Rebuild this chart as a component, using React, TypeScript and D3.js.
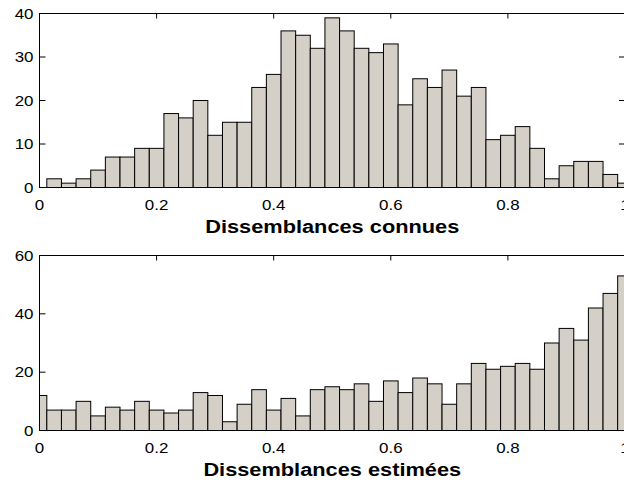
import React from "react";
import * as d3 from "d3";

// Histogram bin centres (0, 0.025, ..., 1) and counts
const BIN_WIDTH = 0.025;
const binCenters: number[] = d3.range(41).map((i) => +(i * BIN_WIDTH).toFixed(4));

const knownCounts: number[] = [
  0, 2, 1, 2, 4, 7, 7, 9, 9, 17, 16, 20, 12, 15, 15, 23, 26, 36, 35, 32, 39,
  36, 32, 31, 33, 19, 25, 23, 27, 21, 23, 11, 12, 14, 9, 2, 5, 6, 6, 3, 1,
];
const estimatedCounts: number[] = [
  12, 7, 7, 10, 5, 8, 7, 10, 7, 6, 7, 13, 12, 3, 9, 14, 7, 11, 5, 14, 15, 14,
  16, 10, 17, 13, 18, 16, 9, 16, 23, 21, 22, 23, 21, 30, 35, 31, 42, 47, 53,
];

const xTicks: number[] = [0, 0.2, 0.4, 0.6, 0.8, 1];
const xTickLabels: string[] = ["0", "0.2", "0.4", "0.6", "0.8", "1"];
const topYTicks: number[] = [0, 10, 20, 30, 40];
const bottomYTicks: number[] = [0, 20, 40, 60];
const topLabel = "Dissemblances connues";
const bottomLabel = "Dissemblances estimées";

const FONT = "'Liberation Sans', Arial, Helvetica, sans-serif";
const SX = 1.21; // horizontal stretch of the reference figure
const BAR_FILL = "#d4d0c8";

type HistProps = {
  id: string;
  counts: number[];
  yMax: number;
  yTicks: number[];
  top: number;
  bottom: number;
  label: string;
};

const X0 = 39.5;
const X1 = 625;

function Histogram({ id, counts, yMax, yTicks, top, bottom, label }: HistProps) {
  const x = d3.scaleLinear().domain([0, 1]).range([X0, X1]);
  const y = d3.scaleLinear().domain([0, yMax]).range([bottom, top]);
  const tickLenX = 5;
  const tickLenY = 6;
  return (
    <g>
      <defs>
        <clipPath id={id}>
          <rect x={X0} y={top} width={X1 - X0} height={bottom - top} />
        </clipPath>
      </defs>
      {/* ticks (inside) */}
      {xTicks.map((t, i) => (
        <g key={"xt" + i}>
          <line x1={x(t)} x2={x(t)} y1={bottom} y2={bottom - tickLenX} stroke="#000" strokeWidth={1} />
          <line x1={x(t)} x2={x(t)} y1={top} y2={top + tickLenX} stroke="#000" strokeWidth={1} />
        </g>
      ))}
      {yTicks.map((t, i) => (
        <g key={"yt" + i}>
          <line x1={X0} x2={X0 + tickLenY} y1={y(t)} y2={y(t)} stroke="#000" strokeWidth={1} />
          <line x1={X1} x2={X1 - tickLenY} y1={y(t)} y2={y(t)} stroke="#000" strokeWidth={1} />
        </g>
      ))}
      {/* bars */}
      <g clipPath={`url(#${id})`}>
        {counts.map((c, i) => {
          const c0 = binCenters[i] - BIN_WIDTH / 2;
          const c1 = binCenters[i] + BIN_WIDTH / 2;
          if (c <= 0) return null;
          return (
            <rect
              key={i}
              x={x(c0)}
              y={y(c)}
              width={x(c1) - x(c0)}
              height={y(0) - y(c)}
              fill={BAR_FILL}
              stroke="#000"
              strokeWidth={1}
            />
          );
        })}
      </g>
      {/* frame */}
      <rect x={X0} y={top} width={X1 - X0} height={bottom - top} fill="none" stroke="#000" strokeWidth={1} />
      {/* tick labels */}
      {xTicks.map((t, i) => (
        <text
          key={"xl" + i}
          transform={`translate(${x(t)},${bottom + 22.5}) scale(${SX},1)`}
          textAnchor="middle"
          fontFamily={FONT}
          fontSize={14}
          fill="#000"
        >
          {xTickLabels[i]}
        </text>
      ))}
      {yTicks.map((t, i) => (
        <text
          key={"yl" + i}
          transform={`translate(${X0 - 6},${y(t) + 5}) scale(${SX},1)`}
          textAnchor="end"
          fontFamily={FONT}
          fontSize={14}
          fill="#000"
        >
          {String(t)}
        </text>
      ))}
      <text
        transform={`translate(${(X0 + X1) / 2},${bottom + 45.5}) scale(${SX},1)`}
        textAnchor="middle"
        fontFamily={FONT}
        fontSize={18}
        fontWeight="bold"
        fill="#000"
      >
        {label}
      </text>
    </g>
  );
}

export default function App() {
  return (
    <svg
      width={624}
      height={482}
      style={{ position: "absolute", left: 0, top: 0, background: "#fff" }}
    >
      <rect x={0} y={0} width={624} height={482} fill="#fff" />
      <Histogram
        id="clipTop"
        counts={knownCounts}
        yMax={40}
        yTicks={topYTicks}
        top={13.5}
        bottom={187.5}
        label={topLabel}
      />
      <Histogram
        id="clipBottom"
        counts={estimatedCounts}
        yMax={60}
        yTicks={bottomYTicks}
        top={255.5}
        bottom={430.5}
        label={bottomLabel}
      />
    </svg>
  );
}
